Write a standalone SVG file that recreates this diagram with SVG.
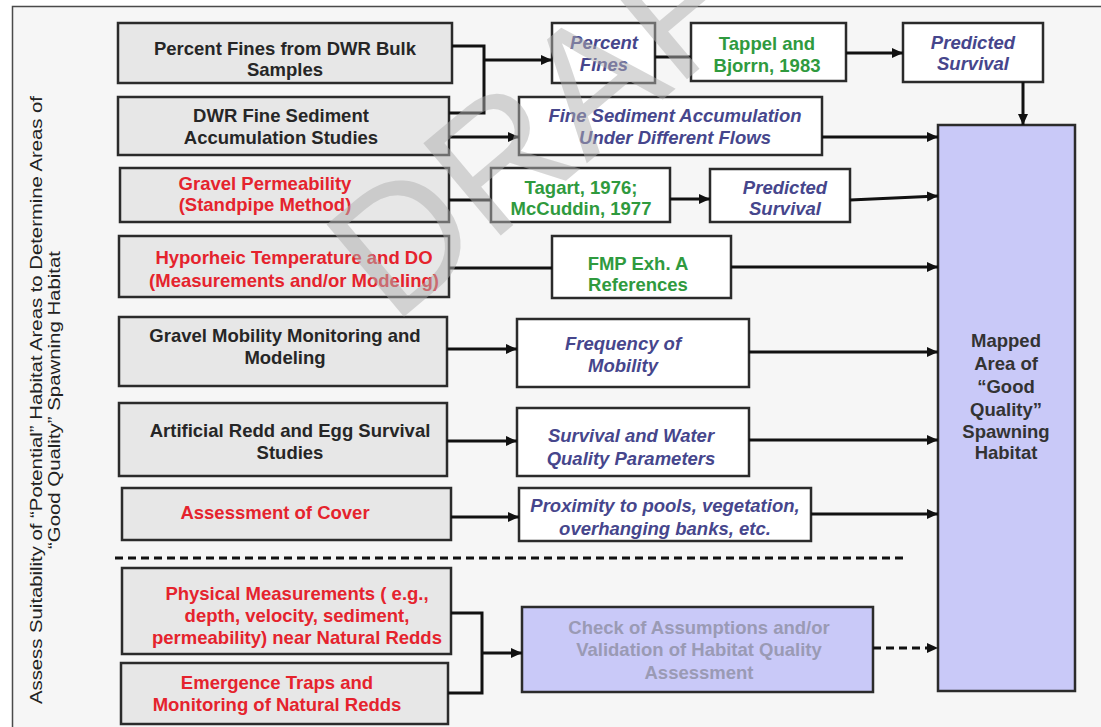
<svg xmlns="http://www.w3.org/2000/svg" width="1101" height="727" viewBox="0 0 1101 727">
<defs>
<style>
.bg{fill:#fff}
.frame{fill:#f6f6f6;stroke:#4a4a4a;stroke-width:1.5}
.bx{stroke:#2b2b2b;stroke-width:2.5}
.gr{fill:#e7e7e7}
.wh{fill:#ffffff}
.pu{fill:#c9c9f8}
text{font-family:"Liberation Sans",Arial,sans-serif;font-size:18.5px;font-weight:bold;text-anchor:middle}
.k{fill:#262626}
.r{fill:#e5232d}
.b{fill:#46468c;font-style:italic}
.g{fill:#2f9a3e}
.c{fill:#9a9ab4}
.m{fill:#333333}
.side{font-size:16px;font-weight:normal;fill:#222}
.conn{stroke:#111;stroke-width:3;fill:none}
.dash{stroke:#111;stroke-width:3;fill:none;stroke-dasharray:8 5}
.wm{font-size:175px;font-weight:normal;fill:#b0b0b0;opacity:0.5;text-anchor:start}
</style>
<marker id="ah" markerUnits="userSpaceOnUse" markerWidth="12" markerHeight="12" refX="11" refY="6" orient="auto">
<path d="M0,1 L11,6 L0,11 z" fill="#111"/>
</marker>
</defs>
<rect class="bg" x="0" y="0" width="1101" height="727"/>
<rect class="frame" x="12.5" y="6.5" width="1100" height="730"/>

<g id="side-label">
<text class="side" transform="translate(42,400) rotate(-90)" x="0" y="0" textLength="608" lengthAdjust="spacingAndGlyphs">Assess Suitability of “Potential” Habitat Areas to Determine Areas of</text>
<text class="side" transform="translate(60,400) rotate(-90)" x="0" y="0" textLength="298" lengthAdjust="spacingAndGlyphs">“Good Quality” Spawning Habitat</text>
</g>

<g id="n-percent-fines-dwr"><rect class="bx gr" x="118" y="23" width="334" height="60"/><text class="k" x="285" y="55">Percent Fines from DWR Bulk</text><text class="k" x="285" y="76">Samples</text></g>
<g id="n-dwr-fine-sediment"><rect class="bx gr" x="118" y="97" width="331" height="58"/><text class="k" x="281" y="121.5">DWR Fine Sediment</text><text class="k" x="281" y="143.5">Accumulation Studies</text></g>
<g id="n-gravel-permeability"><rect class="bx gr" x="120" y="168" width="329" height="54"/><text class="r" x="265" y="189.5">Gravel Permeability</text><text class="r" x="265" y="210.5">(Standpipe Method)</text></g>
<g id="n-hyporheic"><rect class="bx gr" x="119" y="236" width="330" height="61"/><text class="r" x="294" y="263.5">Hyporheic Temperature and DO</text><text class="r" x="294" y="286.5">(Measurements and/or Modeling)</text></g>
<g id="n-gravel-mobility"><rect class="bx gr" x="119" y="317" width="328" height="69"/><text class="k" x="285" y="341.5">Gravel Mobility Monitoring and</text><text class="k" x="285" y="363.5">Modeling</text></g>
<g id="n-artificial-redd"><rect class="bx gr" x="119" y="403" width="328" height="73"/><text class="k" x="290" y="436.5">Artificial Redd and Egg Survival</text><text class="k" x="290" y="458.5">Studies</text></g>
<g id="n-assessment-cover"><rect class="bx gr" x="122" y="488" width="329" height="52"/><text class="r" x="275" y="518.5">Assessment of Cover</text></g>
<g id="n-physical-measurements"><rect class="bx gr" x="122" y="568" width="329" height="86"/><text class="r" x="297" y="599.5">Physical Measurements ( e.g.,</text><text class="r" x="297" y="621.5">depth, velocity, sediment,</text><text class="r" x="297" y="643.5">permeability) near Natural Redds</text></g>
<g id="n-emergence-traps"><rect class="bx gr" x="121" y="663" width="327" height="61"/><text class="r" x="277" y="688.5">Emergence Traps and</text><text class="r" x="277" y="710.5">Monitoring of Natural Redds</text></g>

<g id="n-percent-fines"><rect class="bx wh" x="552" y="23" width="103" height="60"/><text class="b" x="604" y="49">Percent</text><text class="b" x="604" y="70.5">Fines</text></g>
<g id="n-tappel"><rect class="bx wh" x="691" y="23" width="155" height="58"/><text class="g" x="767" y="49.5">Tappel and</text><text class="g" x="767" y="71.5">Bjorrn, 1983</text></g>
<g id="n-predicted-survival-1"><rect class="bx wh" x="903" y="23" width="140" height="59"/><text class="b" x="973" y="48.5">Predicted</text><text class="b" x="973" y="69.5">Survival</text></g>
<g id="n-fine-sediment-acc"><rect class="bx wh" x="519" y="97" width="303" height="58"/><text class="b" x="675" y="121.5">Fine Sediment Accumulation</text><text class="b" x="675" y="143.5">Under Different Flows</text></g>
<g id="n-tagart"><rect class="bx wh" x="491" y="168" width="179" height="54"/><text class="g" x="581" y="193.5">Tagart, 1976;</text><text class="g" x="581" y="214.5">McCuddin, 1977</text></g>
<g id="n-predicted-survival-2"><rect class="bx wh" x="710" y="169" width="140" height="53"/><text class="b" x="785" y="193.5">Predicted</text><text class="b" x="785" y="214.5">Survival</text></g>
<g id="n-fmp"><rect class="bx wh" x="552" y="236" width="179" height="62"/><text class="g" x="638" y="269.5">FMP Exh. A</text><text class="g" x="638" y="290.5">References</text></g>
<g id="n-frequency"><rect class="bx wh" x="517" y="319" width="232" height="68"/><text class="b" x="623" y="349.5">Frequency of</text><text class="b" x="623" y="371.5">Mobility</text></g>
<g id="n-survival-water"><rect class="bx wh" x="517" y="408" width="232" height="68"/><text class="b" x="631" y="441.5">Survival and Water</text><text class="b" x="631" y="464.5">Quality Parameters</text></g>
<g id="n-proximity"><rect class="bx wh" x="519" y="488" width="292" height="53"/><text class="b" x="665" y="511.5">Proximity to pools, vegetation,</text><text class="b" x="665" y="534.5">overhanging banks, etc.</text></g>
<g id="n-check"><rect class="bx pu" x="522" y="607" width="351" height="85"/><text class="c" x="699" y="633.5">Check of Assumptions and/or</text><text class="c" x="699" y="655.5">Validation of Habitat Quality</text><text class="c" x="699" y="678.5">Assessment</text></g>
<g id="n-mapped"><rect class="bx pu" x="938" y="125" width="137" height="566"/><text class="m" x="1006" y="346.5">Mapped</text><text class="m" x="1006" y="369.5">Area of</text><text class="m" x="1006" y="392.5">“Good</text><text class="m" x="1006" y="415.5">Quality”</text><text class="m" x="1006" y="437.5">Spawning</text><text class="m" x="1006" y="458.5">Habitat</text></g>

<g id="connectors">
<polyline class="conn" points="452,46 484,46 484,113 449,113"/>
<line class="conn" x1="484" y1="60" x2="552" y2="60" marker-end="url(#ah)"/>
<line class="conn" x1="449" y1="137" x2="519" y2="137" marker-end="url(#ah)"/>
<line class="conn" x1="449" y1="200" x2="491" y2="200"/>
<line class="conn" x1="655" y1="57" x2="691" y2="57"/>
<line class="conn" x1="846" y1="53" x2="903" y2="53" marker-end="url(#ah)"/>
<line class="conn" x1="1023" y1="82" x2="1023" y2="125" marker-end="url(#ah)"/>
<line class="conn" x1="822" y1="137" x2="938" y2="137" marker-end="url(#ah)"/>
<line class="conn" x1="670" y1="199" x2="710" y2="199" marker-end="url(#ah)"/>
<line class="conn" x1="850" y1="200" x2="938" y2="196" marker-end="url(#ah)"/>
<line class="conn" x1="449" y1="268" x2="552" y2="268"/>
<line class="conn" x1="731" y1="267" x2="938" y2="267" marker-end="url(#ah)"/>
<line class="conn" x1="447" y1="349" x2="517" y2="349" marker-end="url(#ah)"/>
<line class="conn" x1="749" y1="352" x2="938" y2="352" marker-end="url(#ah)"/>
<line class="conn" x1="447" y1="441" x2="517" y2="441" marker-end="url(#ah)"/>
<line class="conn" x1="749" y1="440" x2="938" y2="440" marker-end="url(#ah)"/>
<line class="conn" x1="451" y1="517" x2="519" y2="517" marker-end="url(#ah)"/>
<line class="conn" x1="811" y1="514" x2="938" y2="514" marker-end="url(#ah)"/>
<polyline class="conn" points="451,613 482,613 482,693 448,693"/>
<line class="conn" x1="482" y1="653" x2="522" y2="653" marker-end="url(#ah)"/>
<line class="dash" x1="873" y1="648" x2="938" y2="648" marker-end="url(#ah)"/>
<line class="dash" x1="115" y1="558" x2="908" y2="558"/>
</g>

<g id="watermark">
<text class="wm" transform="translate(393,326) rotate(-40)" x="0" y="0">DRAFT</text>
</g>
</svg>
